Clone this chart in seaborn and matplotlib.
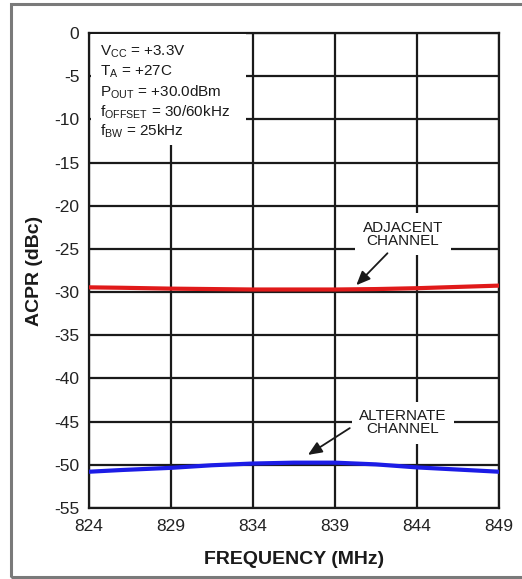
import matplotlib
matplotlib.use("Agg")
import matplotlib.pyplot as plt
import seaborn as sns
import pandas as pd
from matplotlib.patches import Rectangle

# ---- data ----
freq_mhz = [824, 826, 829, 831.5, 834, 836.5, 839, 841.5, 844, 846.5, 849]
adjacent_dbc = [-29.45, -29.5, -29.6, -29.65, -29.7, -29.7, -29.7, -29.65, -29.55, -29.4, -29.25]
alternate_dbc = [-50.8, -50.6, -50.35, -50.05, -49.85, -49.75, -49.75, -49.95, -50.3, -50.55, -50.8]
series_names = ["ADJACENT CHANNEL", "ALTERNATE CHANNEL"]
x_ticks = [824, 829, 834, 839, 844, 849]
y_ticks = [0, -5, -10, -15, -20, -25, -30, -35, -40, -45, -50, -55]
conditions = [r"V$\mathregular{_{CC}}$ = +3.3V",
              r"T$\mathregular{_{A}}$ = +27C",
              r"P$\mathregular{_{OUT}}$ = +30.0dBm",
              r"f$\mathregular{_{OFFSET}}$ = 30/60kHz",
              r"f$\mathregular{_{BW}}$ = 25kHz"]

df = pd.DataFrame({
    "freq": freq_mhz * 2,
    "acpr": adjacent_dbc + alternate_dbc,
    "series": [series_names[0]] * len(freq_mhz) + [series_names[1]] * len(freq_mhz),
})

sns.set_theme(style="white")
plt.rcParams["font.family"] = ["Liberation Sans", "DejaVu Sans"]
plt.rcParams["mathtext.fontset"] = "custom"
plt.rcParams["mathtext.rm"] = "Liberation Sans"
plt.rcParams["mathtext.it"] = "Liberation Sans"

fig = plt.figure(figsize=(5.22, 5.79), dpi=100)
ax = fig.add_axes([89/522, 1-508/579, 410/522, 475/579])

sns.lineplot(data=df, x="freq", y="acpr", hue="series",
             palette={series_names[0]: "#e01a1a", series_names[1]: "#1c1ce6"},
             linewidth=3.0, legend=False, ax=ax, zorder=5)

ax.set_xlim(824, 849)
ax.set_ylim(-55, 0)
ax.set_xticks(x_ticks)
ax.set_yticks(y_ticks)
ax.set_xticklabels([str(t) for t in x_ticks])
ax.set_yticklabels([str(t) for t in y_ticks])
ax.grid(True, color="#1a1a1a", linewidth=1.6, zorder=1)
ax.set_axisbelow(True)
for s in ax.spines.values():
    s.set_color("#1a1a1a")
    s.set_linewidth(1.6)
ax.tick_params(axis="y", direction="out", length=5, width=1.4, color="#1a1a1a",
               pad=2, labelsize=12.5, labelcolor="#222222")
ax.tick_params(axis="x", length=0, pad=8, labelsize=12.5, labelcolor="#222222")
ax.set_xlabel("FREQUENCY (MHz)", fontsize=14, fontweight="bold", labelpad=12, color="#1a1a1a")
ax.set_ylabel("ACPR (dBc)", fontsize=14, fontweight="bold", labelpad=8, color="#1a1a1a")

# conditions box
ax.add_patch(Rectangle((0.004, 0.765), 0.38, 0.232, transform=ax.transAxes,
                       facecolor="white", edgecolor="none", zorder=3))
line_y = [52, 72, 92, 112, 131]
for txt, py in zip(conditions, line_y):
    ax.text(100/522, 1 - py/579, txt, transform=fig.transFigure, fontsize=11,
            va="center", ha="left", color="#1a1a1a", zorder=4)

arrow = dict(arrowstyle="-|>,head_length=0.7,head_width=0.3", color="#1a1a1a",
             lw=1.3, shrinkA=0, shrinkB=0)
box = dict(boxstyle="square,pad=0.5", facecolor="white", edgecolor="none")

ax.text(843.15, -23.3, "ADJACENT\nCHANNEL", ha="center", va="center", fontsize=11,
        linespacing=0.92, color="#1a1a1a", bbox=box, zorder=4)
ax.annotate("", xy=(840.3, -29.2), xytext=(842.2, -25.5), arrowprops=arrow, zorder=6)

ax.text(843.15, -45.15, "ALTERNATE\nCHANNEL", ha="center", va="center", fontsize=11,
        linespacing=0.92, color="#1a1a1a", bbox=box, zorder=4)
ax.annotate("", xy=(837.35, -48.85), xytext=(839.9, -45.75), arrowprops=arrow, zorder=6)

# outer frame
fig.add_artist(Rectangle((11/522, 2/579), 1.2, 573/579, transform=fig.transFigure,
                         facecolor="none", edgecolor="#7a7a7a", linewidth=2.2, clip_on=False))

fig.savefig("out.png", dpi=100)
